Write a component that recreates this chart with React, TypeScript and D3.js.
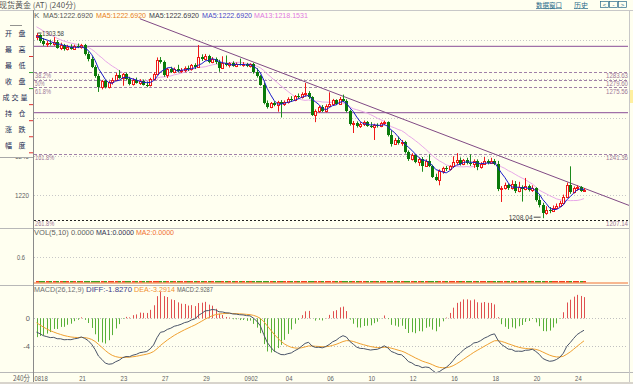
import React from 'react';
import * as d3 from 'd3';

// 240-minute bars from 0818 to 24: [open, high, low, close]
const candles: [number, number, number, number][] = [
  [1301.5, 1303.58, 1300.0, 1302.5], [1302.5, 1303.0, 1298.5, 1299.5], [1299.5, 1301.0, 1297.0, 1297.8], [1297.8, 1299.5, 1296.5, 1298.6],
  [1298.6, 1300.2, 1297.2, 1297.8], [1297.8, 1301.5, 1297.0, 1299.2], [1299.2, 1300.0, 1295.5, 1296.0], [1296.0, 1298.6, 1294.8, 1297.4],
  [1297.4, 1298.0, 1294.5, 1295.2], [1295.2, 1297.5, 1294.6, 1296.6], [1296.6, 1297.8, 1295.0, 1295.6], [1295.6, 1297.6, 1295.0, 1297.0],
  [1297.0, 1298.2, 1295.8, 1296.2], [1296.2, 1298.0, 1295.5, 1297.5], [1297.5, 1298.0, 1292.0, 1292.6], [1292.6, 1294.0, 1289.0, 1290.2],
  [1290.2, 1291.5, 1285.5, 1286.2], [1286.2, 1287.0, 1280.5, 1281.4], [1281.4, 1282.5, 1273.2, 1276.0], [1276.0, 1279.4, 1274.5, 1278.6],
  [1278.6, 1279.5, 1275.0, 1275.8], [1275.8, 1278.8, 1275.0, 1278.2], [1278.2, 1280.5, 1277.0, 1279.6], [1279.6, 1283.0, 1278.8, 1281.8],
  [1281.8, 1284.5, 1280.0, 1280.6], [1280.6, 1283.0, 1276.4, 1282.2], [1282.2, 1283.0, 1279.4, 1280.0], [1280.0, 1281.0, 1276.6, 1277.2],
  [1277.2, 1280.2, 1276.5, 1279.4], [1279.4, 1280.6, 1277.5, 1278.0], [1278.0, 1279.8, 1276.8, 1279.0], [1279.0, 1279.6, 1276.5, 1277.0],
  [1277.0, 1278.6, 1275.6, 1276.6], [1276.6, 1280.5, 1276.0, 1279.8], [1279.8, 1283.4, 1279.2, 1282.6], [1282.6, 1291.0, 1282.0, 1289.8],
  [1289.8, 1291.2, 1287.8, 1288.8], [1288.8, 1289.4, 1281.0, 1282.0], [1282.0, 1285.6, 1280.4, 1284.8], [1284.8, 1286.2, 1283.0, 1283.6],
  [1283.6, 1285.8, 1282.8, 1285.2], [1285.2, 1287.2, 1283.2, 1283.8], [1283.8, 1285.5, 1283.0, 1284.6], [1284.6, 1286.4, 1283.4, 1285.8],
  [1285.8, 1286.8, 1284.0, 1284.8], [1284.8, 1287.6, 1284.2, 1287.0], [1287.0, 1288.0, 1285.0, 1286.2], [1286.2, 1297.4, 1285.8, 1291.0],
  [1291.0, 1292.6, 1289.2, 1290.0], [1290.0, 1292.8, 1289.4, 1291.6], [1291.6, 1292.4, 1288.0, 1288.8], [1288.8, 1291.2, 1288.0, 1290.4],
  [1290.4, 1291.0, 1287.6, 1288.4], [1288.4, 1289.8, 1283.6, 1285.6], [1285.6, 1291.6, 1285.0, 1288.2], [1288.2, 1292.0, 1286.4, 1287.0],
  [1287.0, 1288.6, 1285.8, 1288.0], [1288.0, 1289.0, 1286.2, 1286.6], [1286.6, 1288.4, 1286.0, 1287.8], [1287.8, 1290.4, 1286.8, 1287.0],
  [1287.0, 1288.6, 1286.2, 1287.6], [1287.6, 1288.2, 1286.0, 1286.6], [1286.6, 1288.0, 1285.8, 1287.4], [1287.4, 1288.2, 1282.6, 1283.4],
  [1283.4, 1285.4, 1280.6, 1281.2], [1281.2, 1282.0, 1276.4, 1277.0], [1277.0, 1278.0, 1266.8, 1267.6], [1267.6, 1268.8, 1264.6, 1265.4],
  [1265.4, 1268.0, 1264.8, 1267.4], [1267.4, 1268.4, 1265.8, 1266.6], [1266.6, 1268.6, 1263.0, 1268.0], [1268.0, 1269.0, 1260.0, 1266.8],
  [1266.8, 1268.8, 1266.0, 1268.2], [1268.2, 1270.4, 1267.2, 1269.6], [1269.6, 1271.0, 1268.0, 1268.8], [1268.8, 1271.6, 1268.4, 1271.0],
  [1271.0, 1272.4, 1269.6, 1270.4], [1270.4, 1273.0, 1269.8, 1272.2], [1272.2, 1277.8, 1270.8, 1272.8], [1272.8, 1273.6, 1269.6, 1270.4],
  [1270.4, 1271.0, 1260.8, 1261.4], [1261.4, 1264.2, 1257.6, 1263.6], [1263.6, 1266.2, 1262.4, 1265.4], [1265.4, 1266.4, 1262.8, 1263.4],
  [1263.4, 1266.8, 1262.6, 1266.0], [1266.0, 1273.0, 1265.4, 1267.2], [1267.2, 1269.6, 1266.0, 1268.8], [1268.8, 1269.4, 1266.4, 1267.2],
  [1267.2, 1270.6, 1266.8, 1269.6], [1269.6, 1271.8, 1268.0, 1268.6], [1268.6, 1269.4, 1262.6, 1263.2], [1263.2, 1264.0, 1255.8, 1256.6],
  [1256.6, 1258.2, 1252.0, 1257.4], [1257.4, 1258.0, 1254.8, 1255.4], [1255.4, 1257.6, 1254.6, 1256.8], [1256.8, 1258.4, 1255.6, 1257.6],
  [1257.6, 1258.2, 1255.2, 1255.8], [1255.8, 1257.6, 1254.6, 1255.0], [1255.0, 1256.8, 1248.4, 1256.2], [1256.2, 1257.0, 1254.8, 1255.4],
  [1255.4, 1257.8, 1255.0, 1257.2], [1257.2, 1258.4, 1256.0, 1257.8], [1257.8, 1258.0, 1250.2, 1251.0], [1251.0, 1253.4, 1245.0, 1246.4],
  [1246.4, 1249.4, 1245.8, 1248.6], [1248.6, 1250.2, 1246.0, 1246.8], [1246.8, 1248.4, 1245.4, 1247.6], [1247.6, 1248.0, 1241.4, 1242.0],
  [1242.0, 1243.0, 1237.6, 1238.4], [1238.4, 1241.6, 1237.8, 1240.6], [1240.6, 1241.2, 1236.4, 1237.2], [1237.2, 1239.4, 1235.0, 1238.6],
  [1238.6, 1239.6, 1232.0, 1235.2], [1235.2, 1238.4, 1234.6, 1237.8], [1237.8, 1241.0, 1234.4, 1235.0], [1235.0, 1235.6, 1228.8, 1229.4],
  [1229.4, 1231.0, 1227.2, 1228.0], [1228.0, 1233.2, 1225.0, 1232.6], [1232.6, 1234.6, 1231.0, 1234.0], [1234.0, 1235.0, 1232.4, 1233.2],
  [1233.2, 1235.4, 1232.6, 1234.8], [1234.8, 1240.0, 1234.0, 1236.8], [1236.8, 1241.6, 1235.6, 1238.2], [1238.2, 1239.4, 1235.2, 1236.0],
  [1236.0, 1238.6, 1235.4, 1238.0], [1238.0, 1239.2, 1235.8, 1236.6], [1236.6, 1241.0, 1235.0, 1235.8], [1235.8, 1238.4, 1234.0, 1237.8],
  [1237.8, 1238.4, 1232.8, 1234.4], [1234.4, 1237.0, 1233.6, 1236.2], [1236.2, 1239.6, 1235.6, 1237.6], [1237.6, 1238.4, 1235.8, 1236.6],
  [1236.6, 1239.2, 1236.0, 1237.4], [1237.4, 1238.6, 1235.4, 1236.2], [1236.2, 1237.6, 1222.0, 1223.0], [1223.0, 1224.6, 1216.4, 1223.8],
  [1223.8, 1226.4, 1222.8, 1225.0], [1225.0, 1226.0, 1222.6, 1223.4], [1223.4, 1227.6, 1222.8, 1225.6], [1225.6, 1227.2, 1221.0, 1222.0],
  [1222.0, 1226.8, 1221.4, 1224.2], [1224.2, 1225.0, 1216.6, 1223.0], [1223.0, 1228.8, 1222.4, 1224.6], [1224.6, 1225.4, 1221.8, 1222.6],
  [1222.6, 1225.0, 1221.6, 1223.4], [1223.4, 1224.0, 1216.6, 1217.4], [1217.4, 1219.8, 1213.6, 1214.6], [1214.6, 1216.0, 1208.04, 1210.6],
  [1210.6, 1214.2, 1209.8, 1212.4], [1212.4, 1213.8, 1210.6, 1211.8], [1211.8, 1214.6, 1211.2, 1213.4], [1213.4, 1215.6, 1212.6, 1214.4],
  [1214.4, 1217.0, 1213.8, 1215.8], [1215.8, 1220.2, 1215.2, 1219.0], [1219.0, 1226.4, 1218.4, 1225.1], [1225.1, 1234.8, 1220.6, 1221.5],
  [1221.5, 1224.4, 1220.8, 1223.4], [1223.4, 1225.0, 1222.2, 1223.9], [1223.9, 1224.6, 1221.6, 1222.2], [1222.2, 1223.6, 1221.8, 1222.46],
];

// closes just before the window, only used to warm up the moving averages
const priorCloses = [1313, 1312, 1311, 1311, 1310, 1309, 1307, 1305, 1303, 1302, 1301, 1302];
// ema12, ema26, dea before the first bar
const macdSeed = [1304.6, 1306.6, -0.3];

const tickBars = [0, 13, 25, 37, 49, 61, 73, 85, 97, 109, 121, 133, 145, 157];
const tickLabels = ['0818', '21', '23', '27', '29', '0902', '04', '06', '10', '12', '16', '18', '20', '24'];

const priceGrid = [1220, 1240, 1260, 1280, 1300];
const priceAxisLabels = ['1220', '1240'];
const fibBounds = [1296.7, 1262.5];
const fibLevels = [1283.63, 1279.6, 1275.56, 1241.36, 1207.14];
const fibNames = ['38.2%', '50%', '61.8%', '161.8%', '261.8%'];
const fibValues = ['1283.63', '1279.60', '1275.56', '1241.36', '1207.14'];

const trendBars = [30, 173.3];
const trendPrices = [1311.0, 1213.8];

const extremes = [{ bar: 0, price: 1303.58, text: '1303.58' }, { bar: 147, price: 1208.04, text: '1208.04' }];

const sideLabels = ['开盘', '最高', '最低', '收盘', '成交量', '持仓', '涨跌', '幅度'];
const sideMarks = ['#e03030', '#30a030', '#30a030', '#e03030', '#e03030', '#e03030', '#e03030'];

const maHeader = ['MA5:1222.6920', 'MA5:1222.6920', 'MA5:1222.6920', 'MA5:1222.6920', 'MA13:1218.1531'];
const maHeaderColors = ['#555555', '#e8801c', '#3a3a4a', '#4a48c8', '#e078e0'];
const maHeaderX = [43, 96, 149, 202, 254];
const volHeader = ['VOL(5,10) 0.0000', 'MA1:0.0000', 'MA2:0.0000'];
const macdHeader = ['MACD(26,12,9)', 'DIFF:-1.8270', 'DEA:-3.2914', 'MACD:2.9287'];

const BG = '#fffff0';
const LATIN = "'Liberation Sans', Arial, sans-serif";
const CJK = "'Noto Sans CJK SC', sans-serif";

const xs = d3.scaleLinear().domain([0, candles.length - 1]).range([36.5, 584]);
const py = d3.scaleLinear().domain([1220, 1260]).range([195, 117.5]);
const vy = d3.scaleLinear().domain([0, 0.6]).range([282.5, 257]);
const my = d3.scaleLinear().domain([-4, 0]).range([345.7, 318.3]);

const closes = candles.map((c) => c[3]);
const withPrior = priorCloses.concat(closes);
const movingAvg = (n: number) =>
  closes.map((_, i) => {
    const j = i + priorCloses.length;
    return d3.mean(withPrior.slice(j - n + 1, j + 1)) as number;
  });
const ma5 = movingAvg(5);
const ma13 = movingAvg(13);

let e12 = macdSeed[0];
let e26 = macdSeed[1];
let dea = macdSeed[2];
const diffs: number[] = [];
const deas: number[] = [];
const hist: number[] = [];
closes.forEach((c) => {
  e12 += ((c - e12) * 2) / 13;
  e26 += ((c - e26) * 2) / 27;
  const d = e12 - e26;
  dea += ((d - dea) * 2) / 10;
  diffs.push(d);
  deas.push(dea);
  hist.push(2 * (d - dea));
});

const priceLine = d3.line<number>().x((_, i) => xs(i)).y((d) => py(d));
const macdLine = d3.line<number>().x((_, i) => xs(i)).y((d) => my(d));

const T = ({ x, y, w, fill = '#606060', size = 8, anchor = 'start', font = LATIN, children }: any) => (
  <text
    x={x}
    y={y}
    fill={fill}
    fontSize={size}
    fontFamily={font}
    textAnchor={anchor}
    textLength={w}
    lengthAdjust={w ? 'spacingAndGlyphs' : undefined}
  >
    {children}
  </text>
);

const App = () => {
  const px = (i: number) => Math.round(xs(i));
  return (
    <div style={{ position: 'absolute', left: 0, top: 0 }}>
      <svg width={633} height={384} style={{ display: 'block' }}>
        <defs>
          <clipPath id="mainClip">
            <rect x={33.5} y={11} width={595.5} height={217} />
          </clipPath>
        </defs>
        <rect width={633} height={384} fill={BG} />

        {/* title bar */}
        <T x={-1} y={8} size={8} font={CJK} fill="#555">现货黄金 (AT) (240分)</T>
        <T x={536} y={7.5} size={7} font={CJK} fill="#2a6a8a" w={26}>数据窗口</T>
        <line x1={536} x2={562} y1={8.5} y2={8.5} stroke="#2a6a8a" strokeWidth={0.6} />
        <T x={574} y={7.5} size={7} font={CJK} fill="#2a6a8a" w={14}>历史</T>
        <line x1={574} x2={588} y1={8.5} y2={8.5} stroke="#2a6a8a" strokeWidth={0.6} />
        {['<', '-', '>'].map((s, i) => (
          <g key={s}>
            <rect x={600.5 + i * 9} y={1.5} width={8} height={6} fill="none" stroke="#2a6a8a" strokeWidth={0.7} />
            <T x={604.5 + i * 9} y={7} size={6} anchor="middle" fill="#2a6a8a">{s}</T>
          </g>
        ))}
        <line x1={0} x2={633} y1={10.5} y2={10.5} stroke="#c8c8c8" />

        {/* price grid */}
        {priceGrid.map((p) => (
          <line key={p} x1={34} x2={628} y1={Math.round(py(p)) + 0.5} y2={Math.round(py(p)) + 0.5} stroke="#c8c8c8" strokeDasharray="1,2" />
        ))}
        {priceAxisLabels.map((s) => (
          <T key={s} x={29} y={py(+s) + 3} anchor="end" w={14} size={7.5}>{s}</T>
        ))}

        <g clipPath="url(#mainClip)">
          {fibBounds.map((p) => (
            <line key={p} x1={34} x2={628} y1={py(p)} y2={py(p)} stroke="#a070a8" strokeWidth={1.3} />
          ))}
          {fibLevels.map((p, i) => (
            <line
              key={p}
              x1={34}
              x2={628}
              y1={Math.round(py(p)) + 0.5}
              y2={Math.round(py(p)) + 0.5}
              stroke={i === fibLevels.length - 1 ? '#202020' : '#a080a8'}
              strokeWidth={i === fibLevels.length - 1 ? 1.2 : 1}
              strokeDasharray={i === fibLevels.length - 1 ? '2,2' : '3,2'}
            />
          ))}
          {fibLevels.map((p, i) => (
            <g key={'l' + p}>
              <T x={35} y={py(p) + 6.5} size={7} fill="#a07898" w={fibNames[i].length * 3.2}>{fibNames[i]}</T>
              <T x={628} y={py(p) + 6.5} size={7} fill="#a07898" anchor="end" w={22}>{fibValues[i]}</T>
            </g>
          ))}

          <line
            x1={xs(trendBars[0])}
            y1={py(trendPrices[0])}
            x2={xs(trendBars[1])}
            y2={py(trendPrices[1])}
            stroke="#804a84"
            strokeWidth={1}
          />

          <path d={priceLine(ma13) || ''} fill="none" stroke="#e8a8e8" strokeWidth={1} />

          {candles.map(([o, h, l, c], i) => {
            const x = px(i);
            const up = c >= o;
            const top = Math.round(py(Math.max(o, c)));
            const bot = Math.round(py(Math.min(o, c)));
            if (up) {
              return (
                <g key={i} stroke="#f01818" strokeWidth={1}>
                  <line x1={x + 0.5} x2={x + 0.5} y1={py(h)} y2={top} />
                  <line x1={x + 0.5} x2={x + 0.5} y1={bot + 1} y2={py(l)} />
                  <rect x={x - 0.5} y={top + 0.5} width={2} height={Math.max(1, bot - top)} fill={BG} />
                </g>
              );
            }
            return (
              <g key={i}>
                <line x1={x + 0.5} x2={x + 0.5} y1={py(h)} y2={py(l)} stroke="#1c8a1c" strokeWidth={1} />
                <rect x={x - 1} y={top} width={3} height={Math.max(1, bot - top)} fill="#0a7a0a" />
              </g>
            );
          })}

          <path d={priceLine(ma5) || ''} fill="none" stroke="#1a1ac8" strokeWidth={1} />

          {extremes.map((e, i) =>
            i === 0 ? (
              <g key={e.text}>
                <line x1={xs(e.bar) + 1} x2={xs(e.bar) + 5} y1={py(e.price)} y2={py(e.price)} stroke="#444" />
                <T x={42} y={py(e.price) + 2.5} size={7.5} fill="#444" w={22}>{e.text}</T>
              </g>
            ) : (
              <g key={e.text}>
                <T x={xs(e.bar) - 10} y={py(e.price) + 1.5} size={7.5} anchor="end" fill="#444" w={24}>{e.text}</T>
                <line x1={xs(e.bar) - 9} x2={xs(e.bar) - 2} y1={py(e.price) - 1} y2={py(e.price) - 1} stroke="#444" />
              </g>
            )
          )}
        </g>

        <T x={34} y={18} size={8} fill="#606060">K</T>
        {maHeader.map((s, i) => (
          <T key={i} x={maHeaderX[i]} y={18} size={8} fill={maHeaderColors[i]} w={s.length * 3.85}>{s}</T>
        ))}

        {/* left info box */}
        <rect x={0} y={26} width={32.5} height={131.5} fill={BG} />
        <line x1={0} x2={33} y1={157.5} y2={157.5} stroke="#a8a8a8" />
        <line x1={10} x2={22} y1={25.5} y2={25.5} stroke="#777" strokeWidth={0.8} />
        {sideLabels.map((s, i) =>
          Array.from(s).map((ch, k) => (
            <T
              key={s + k}
              x={s.length === 3 ? 2.5 + k * 9 : 5 + k * 13.5}
              y={36 + i * 16.05}
              size={7}
              font={CJK}
              fill="#1a2a50"
            >
              {ch}
            </T>
          ))
        )}
        {sideMarks.map((c, i) => (
          <line key={i} x1={29} x2={33} y1={56.5 + i * 16.05} y2={56.5 + i * 16.05} stroke={c} />
        ))}

        {/* volume panel */}
        <line x1={0} x2={629} y1={228.5} y2={228.5} stroke="#b8b8b8" />
        <T x={34} y={235} size={7.5} fill="#606060" w={60}>{volHeader[0]}</T>
        <T x={96} y={235} size={7.5} fill="#303050" w={38}>{volHeader[1]}</T>
        <T x={136} y={235} size={7.5} fill="#f07030" w={38}>{volHeader[2]}</T>
        <line x1={34} x2={628} y1={Math.round(vy(0.6)) + 0.5} y2={Math.round(vy(0.6)) + 0.5} stroke="#c8c8c8" strokeDasharray="1,2" />
        <T x={25} y={vy(0.6) + 3} size={7.5} anchor="end" w={8}>0.6</T>
        {candles.map(([o, , , c], i) => (
          <rect key={i} x={px(i) - 1} y={vy(0) - 1.5} width={3} height={1.5} fill={c >= o ? '#f04020' : '#40a020'} />
        ))}
        <line x1={34} x2={628} y1={vy(0) + 0.5} y2={vy(0) + 0.5} stroke="#f07030" strokeWidth={1} />

        {/* MACD panel */}
        <line x1={0} x2={629} y1={285.5} y2={285.5} stroke="#b8b8b8" />
        <T x={34} y={292} size={7.5} fill="#707070" w={50}>{macdHeader[0]}</T>
        <T x={86} y={292} size={7.5} fill="#40408a" w={46}>{macdHeader[1]}</T>
        <T x={134} y={292} size={7.5} fill="#f09030" w={41}>{macdHeader[2]}</T>
        <T x={177} y={292} size={7.5} fill="#606060" w={36}>{macdHeader[3]}</T>
        {[0, -4].map((v) => (
          <g key={v}>
            <line x1={34} x2={628} y1={Math.round(my(v)) + 0.5} y2={Math.round(my(v)) + 0.5} stroke="#c0c0c0" strokeDasharray="1,2" />
            <T x={30} y={my(v) + 3} size={7.5} anchor="end">{String(v)}</T>
          </g>
        ))}
        {hist.map((v, i) => (
          <line
            key={i}
            x1={px(i) + 0.5}
            x2={px(i) + 0.5}
            y1={my(0)}
            y2={my(v)}
            stroke={v >= 0 ? '#e05050' : '#58b038'}
            strokeWidth={1}
          />
        ))}
        <path d={macdLine(deas) || ''} fill="none" stroke="#f0a030" strokeWidth={1} />
        <path d={macdLine(diffs) || ''} fill="none" stroke="#4a5468" strokeWidth={1} />

        {/* time axis */}
        <line x1={0} x2={633} y1={372.5} y2={372.5} stroke="#b8b8b8" />
        <T x={30} y={380.5} size={7.5} anchor="end" font={CJK} w={17}>240分</T>
        {tickBars.map((b, i) => (
          <T key={b} x={xs(b) - 2} y={380.5} size={7.5} w={tickLabels[i].length * 3.3}>{tickLabels[i]}</T>
        ))}
        <rect x={0} y={382} width={633} height={2} fill="#d8d4cc" />

        {/* frame */}
        <line x1={33.5} x2={33.5} y1={10} y2={382} stroke="#8a8a8a" />
        <line x1={629.5} x2={629.5} y1={10} y2={382} stroke="#c8c8c8" />
        <rect x={630} y={90} width={3} height={13} fill="#fff0a0" />
      </svg>
    </div>
  );
};

export default App;
